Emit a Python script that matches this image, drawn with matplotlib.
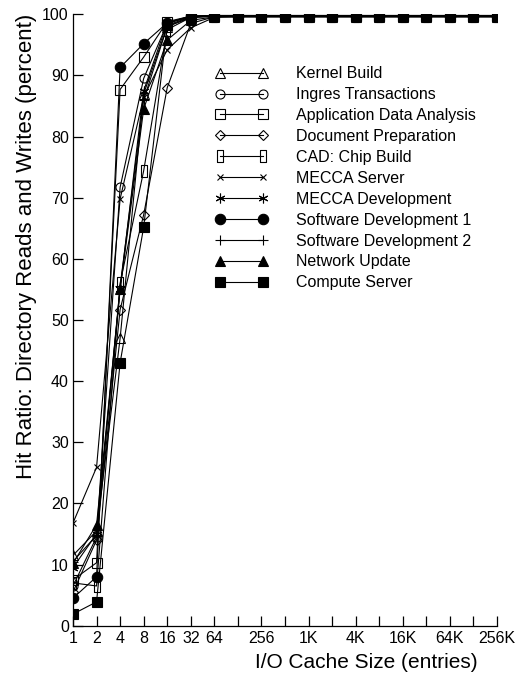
import numpy as np
import matplotlib.pyplot as plt
from matplotlib.ticker import FixedLocator, NullFormatter

plt.rcParams['font.family'] = ['Liberation Sans', 'DejaVu Sans']

# cache sizes: 1 .. 256K entries, one point per doubling
sizes = [2 ** k for k in range(19)]

kernel_build = [11.5, 15.5, 47.0, 87.0, 98.0, 99.5, 99.7, 99.7, 99.7, 99.7, 99.7, 99.7, 99.7, 99.7, 99.7, 99.7, 99.7, 99.7, 99.7]
ingres = [6.5, 14.5, 71.7, 89.5, 98.5, 99.6, 99.7, 99.7, 99.7, 99.7, 99.7, 99.7, 99.7, 99.7, 99.7, 99.7, 99.7, 99.7, 99.7]
app_data = [7.5, 10.3, 87.7, 93.0, 98.8, 99.7, 99.8, 99.8, 99.8, 99.8, 99.8, 99.8, 99.8, 99.8, 99.8, 99.8, 99.8, 99.8, 99.8]
doc_prep = [5.5, 14.0, 51.7, 67.2, 88.0, 98.5, 99.6, 99.6, 99.6, 99.6, 99.6, 99.6, 99.6, 99.6, 99.6, 99.6, 99.6, 99.6, 99.6]
cad_chip = [7.0, 6.5, 56.0, 74.4, 97.5, 99.5, 99.7, 99.7, 99.7, 99.7, 99.7, 99.7, 99.7, 99.7, 99.7, 99.7, 99.7, 99.7, 99.7]
mecca_server = [16.8, 25.9, 69.8, 86.5, 94.2, 97.8, 99.5, 99.6, 99.6, 99.6, 99.6, 99.6, 99.6, 99.6, 99.6, 99.6, 99.6, 99.6, 99.6]
mecca_dev = [9.5, 15.0, 55.0, 87.5, 98.6, 99.7, 99.8, 99.8, 99.8, 99.8, 99.8, 99.8, 99.8, 99.8, 99.8, 99.8, 99.8, 99.8, 99.8]
sw_dev1 = [4.5, 8.0, 91.3, 95.2, 98.6, 99.7, 99.8, 99.8, 99.8, 99.8, 99.8, 99.8, 99.8, 99.8, 99.8, 99.8, 99.8, 99.8, 99.8]
sw_dev2 = [10.5, 14.8, 55.5, 86.0, 98.0, 99.5, 99.7, 99.7, 99.7, 99.7, 99.7, 99.7, 99.7, 99.7, 99.7, 99.7, 99.7, 99.7, 99.7]
network = [10.2, 16.5, 55.0, 84.5, 95.8, 99.0, 99.6, 99.6, 99.6, 99.6, 99.6, 99.6, 99.6, 99.6, 99.6, 99.6, 99.6, 99.6, 99.6]
compute = [1.9, 3.9, 43.0, 65.2, 98.2, 99.6, 99.8, 99.8, 99.8, 99.8, 99.8, 99.8, 99.8, 99.8, 99.8, 99.8, 99.8, 99.8, 99.8]

tick_pos = [1, 2, 4, 8, 16, 32, 64, 256, 1024, 4096, 16384, 65536, 262144]
tick_lbl = ['1', '2', '4', '8', '16', '32', '64', '256', '1K', '4K', '16K', '64K', '256K']

tall_rect = [(-0.3, -0.5), (0.3, -0.5), (0.3, 0.5), (-0.3, 0.5), (-0.3, -0.5)]

series = [
    ('Kernel Build', kernel_build, '^', False, 6.5),
    ('Ingres Transactions', ingres, 'o', False, 6.5),
    ('Application Data Analysis', app_data, 's', False, 6.5),
    ('Document Preparation', doc_prep, 'D', False, 5),
    ('CAD: Chip Build', cad_chip, tall_rect, False, 8),
    ('MECCA Server', mecca_server, 'x', False, 5),
    ('MECCA Development', mecca_dev, (6, 2, 0), False, 7),
    ('Software Development 1', sw_dev1, 'o', True, 7.5),
    ('Software Development 2', sw_dev2, '+', False, 7),
    ('Network Update', network, '^', True, 7.5),
    ('Compute Server', compute, 's', True, 7),
]

fig = plt.figure(figsize=(5.19, 6.77), dpi=100)
ax = fig.add_axes([73 / 519, 1 - 625.7 / 677, 424 / 519, 611.4 / 677])

for name, vals, mk, filled, ms in series:
    ax.plot(sizes, vals, color='black', linewidth=0.8, marker=mk, markersize=ms,
            markerfacecolor='black' if filled else 'none',
            markeredgecolor='black', markeredgewidth=0.8, label=name)

ax.set_xscale('log', base=2)
ax.set_xlim(1, 2 ** 18)
ax.set_ylim(0, 100)
ax.xaxis.set_major_locator(FixedLocator(tick_pos))
ax.set_xticklabels(tick_lbl)
ax.xaxis.set_minor_locator(FixedLocator([128, 512, 2048, 8192, 32768, 131072]))
ax.xaxis.set_minor_formatter(NullFormatter())
ax.set_yticks(np.arange(0, 101, 10))

ax.spines['top'].set_visible(False)
ax.spines['right'].set_visible(False)
for sp in ('left', 'bottom'):
    ax.spines[sp].set_linewidth(0.9)
ax.tick_params(axis='both', which='both', direction='in', length=7.5, width=0.9,
               labelsize=11.5, pad=4)
ax.tick_params(axis='y', pad=3)

ax.set_xlabel('I/O Cache Size (entries)', fontsize=15)
ax.xaxis.set_label_coords(0.691, -0.045)
ax.set_ylabel('Hit Ratio: Directory Reads and Writes (percent)', fontsize=16)
ax.yaxis.set_label_coords(-0.085, 0.621)

ax.legend(loc='upper left', bbox_to_anchor=(0.335, 0.915), frameon=False,
          numpoints=2, handlelength=3.3, handletextpad=1.8, fontsize=11.5,
          labelspacing=0.37, borderpad=0, borderaxespad=0)

fig.savefig('out.png', dpi=100)
